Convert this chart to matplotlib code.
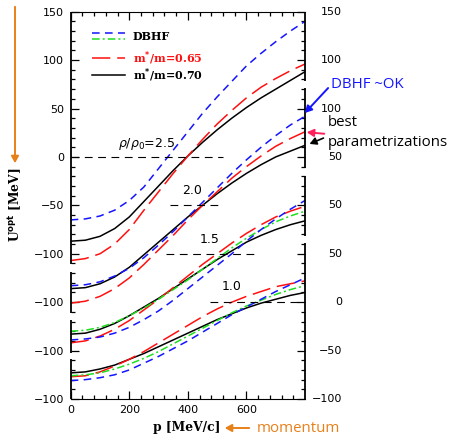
import matplotlib
matplotlib.use("Agg")
import matplotlib.pyplot as plt
from matplotlib.lines import Line2D
from matplotlib.patches import FancyArrowPatch

# momentum grid [MeV/c]
p = list(range(0, 801, 50))

# optical potential [MeV] for each density, one list per curve
dbhf_25 = [-65, -64, -61, -55, -45, -31, -12, 7, 26, 45, 62, 78, 94, 107, 119, 130, 140]
m065_25 = [-107, -105, -100, -90, -75, -55, -36, -17, 1, 18, 34, 48, 61, 72, 81, 89, 96]
m070_25 = [-87, -86, -82, -74, -62, -46, -30, -14, 1, 15, 28, 40, 51, 61, 70, 79, 88]

dbhf_20 = [-83, -82, -79, -73, -65, -54, -41, -27, -12, 3, 18, 33, 47, 60, 72, 83, 92]
m065_20 = [-101, -99, -94, -86, -75, -61, -46, -31, -15, 0, 14, 28, 40, 51, 61, 69, 76]
m070_20 = [-86, -85, -81, -74, -64, -51, -38, -25, -12, 0, 12, 23, 33, 42, 50, 56, 62]

dbhf_15 = [-89, -88, -86, -82, -76, -68, -59, -48, -36, -24, -12, 0, 13, 25, 36, 46, 55]
dbhf2_15 = [-80, -79, -76, -71, -64, -56, -47, -37, -27, -16, -5, 6, 16, 25, 33, 39, 44]
m065_15 = [-92, -90, -85, -78, -69, -58, -47, -35, -23, -11, 0, 11, 21, 30, 38, 44, 49]
m070_15 = [-83, -82, -78, -72, -64, -55, -46, -36, -26, -16, -6, 3, 12, 19, 25, 30, 34]

dbhf_10 = [-81, -80, -78, -75, -70, -63, -56, -48, -40, -31, -22, -13, -5, 3, 11, 18, 25]
dbhf2_10 = [-76, -75, -73, -69, -64, -58, -51, -43, -35, -27, -19, -11, -4, 2, 8, 13, 17]
m065_10 = [-77, -76, -72, -66, -59, -51, -42, -33, -24, -15, -7, 0, 6, 11, 16, 19, 22]
m070_10 = [-73, -72, -69, -65, -59, -53, -46, -39, -32, -25, -18, -12, -6, -1, 3, 7, 10]

density_labels = [r"$\rho/\rho_0$=2.5", "2.0", "1.5", "1.0"]
shifts = [0, -50, -100, -150]

BLUE = "#1414ff"
GREEN = "#1ee01e"
RED = "#ff1010"
ORANGE = "#e8801a"

W, H = 450, 438


def fx(x):
    return x / W


def fy(y):
    return 1 - y / H


fig = plt.figure(figsize=(4.5, 4.38), dpi=100)
ax = fig.add_axes([fx(70.7), fy(399), (305 - 70.7) / W, (399 - 11.7) / H])


def curve(vals, shift, color, dashes, lw=1.1):
    line, = ax.plot(p, [v + shift for v in vals], color=color, lw=lw,
                    solid_capstyle="butt", dash_capstyle="butt")
    if dashes:
        line.set_dashes(dashes)


blue_d = (5, 3.5)
red_d = (12, 4.5)
green_d = (5, 2, 1.3, 2)

panels = [
    (dbhf_25, None, m065_25, m070_25),
    (dbhf_20, None, m065_20, m070_20),
    (dbhf_15, dbhf2_15, m065_15, m070_15),
    (dbhf_10, dbhf2_10, m065_10, m070_10),
]
for (d1, d2, r, k), s in zip(panels, shifts):
    curve(k, s, "black", None)
    curve(r, s, RED, red_d)
    if d2 is not None:
        curve(d2, s, GREEN, green_d)
    curve(d1, s, BLUE, blue_d)

# zero lines of each density block
zero_spans = [(0, 520), (340, 520), (325, 627), (475, 783)]
for s, (a, b) in zip(shifts, zero_spans):
    zl = ax.hlines(s, a, b, color="black", lw=0.8)
    zl.set_linestyle((0, (7, 5)))

label_pos = [(260, 13), (414, -35), (475, -85), (550, -134)]
for txt, (xp, yp) in zip(density_labels, label_pos):
    ax.text(xp, yp, txt, ha="center", va="center", fontsize=9,
            family="DejaVu Sans")

ax.set_xlim(0, 800)
ax.set_ylim(-250, 150)

# axes frame: left and right edges are broken between density blocks
ax.spines["left"].set_visible(False)
ax.spines["right"].set_visible(False)
left_segs = [(150, -110.5), (-119, -161), (-168, -202), (-209, -250)]
right_segs = [(150, 78.5), (71, -11), (-20, -82), (-89, -250)]
for segs, xa in ((left_segs, 0), (right_segs, 1)):
    for top, bot in segs:
        ax.plot([xa, xa], [top, bot], color="black", lw=1.3,
                transform=ax.get_yaxis_transform(), clip_on=False,
                solid_capstyle="butt")

ax.set_xticks([0, 200, 400, 600])
ax.set_xticks(range(40, 800, 40), minor=True)
ax.set_yticks(range(-250, 151, 50))
ax.set_yticks(range(-250, 151, 10), minor=True)
ax.tick_params(which="both", direction="in", top=True, right=True,
               width=0.9, labelsize=8, colors="black")
ax.tick_params(which="major", length=6)
ax.tick_params(which="minor", length=3)
ax.tick_params(axis="x", which="major", pad=4)
ax.tick_params(axis="y", which="major", pad=5)

left_labels = ["\u2212100", "\u2212100", "\u2212100", "\u2212100", "\u221250",
               "0", "50", "100", "150"]
right_labels = ["\u2212100", "\u221250", "0", "50", "50", "50", "100", "100",
                "150"]
ax.set_yticklabels(left_labels, family="DejaVu Sans")
ax.set_xticklabels(["0", "200", "400", "600"], family="DejaVu Sans")
for yv, txt in zip(range(-250, 151, 50), right_labels):
    ax.text(1.158, yv, txt, transform=ax.get_yaxis_transform(), ha="right",
            va="center", fontsize=8, family="DejaVu Sans")

# legend
serif = dict(family="DejaVu Serif", weight="bold", fontsize=8)
leg_rows = [
    (33, BLUE, blue_d), (39, GREEN, green_d),
    (58, RED, red_d), (75, "black", None),
]
for y, c, d in leg_rows:
    ln = Line2D([fx(92), fx(125)], [fy(y), fy(y)], color=c, lw=1.1,
                transform=fig.transFigure, dash_capstyle="butt")
    if d:
        ln.set_dashes(d)
    fig.add_artist(ln)
fig.text(fx(133), fy(36), "DBHF", va="center", **serif)
fig.text(fx(133), fy(58), r"m$^{\mathbf{*}}$/m=0.65", va="center", color=RED,
         **serif)
fig.text(fx(133), fy(75), r"m$^{\mathbf{*}}$/m=0.70", va="center", **serif)

# axis labels
label_font = dict(serif, fontsize=8.8)
fig.text(fx(187), fy(428), "p [MeV/c]", ha="center", va="center", **label_font)
fig.text(fx(15), fy(205), r"U$^{\mathbf{opt}}$ [MeV]", ha="center",
         va="center", rotation=90, **label_font)

# side notes
note = dict(family="Open Sans", fontsize=10.8)
head = "-|>,head_length=4,head_width=2.2"
fig.text(fx(257), fy(428), "momentum", color=ORANGE, va="center", **note)
fig.add_artist(FancyArrowPatch((fx(252), fy(428)), (fx(222), fy(428)),
                               transform=fig.transFigure, arrowstyle=head,
                               color=ORANGE, lw=1.4))
fig.add_artist(FancyArrowPatch((fx(15), fy(4)), (fx(15), fy(166)),
                               transform=fig.transFigure, arrowstyle=head,
                               color=ORANGE, lw=1.4))

fig.text(fx(331), fy(85), "DBHF ~OK", color=BLUE, va="center", **note)
fig.add_artist(FancyArrowPatch((fx(330), fy(86)), (fx(303), fy(115)),
                               transform=fig.transFigure, arrowstyle=head,
                               color=BLUE, lw=1.4))
fig.text(fx(328), fy(123), "best", va="center", **note)
fig.text(fx(328), fy(142), "parametrizations", va="center", **note)
fig.add_artist(FancyArrowPatch((fx(327), fy(134)), (fx(304), fy(132)),
                               transform=fig.transFigure, arrowstyle=head,
                               color="#ff1f5a", lw=1.4))
fig.add_artist(FancyArrowPatch((fx(326), fy(137)), (fx(307), fy(145)),
                               transform=fig.transFigure, arrowstyle=head,
                               color="black", lw=1.2))

fig.savefig("out.png", dpi=100)
